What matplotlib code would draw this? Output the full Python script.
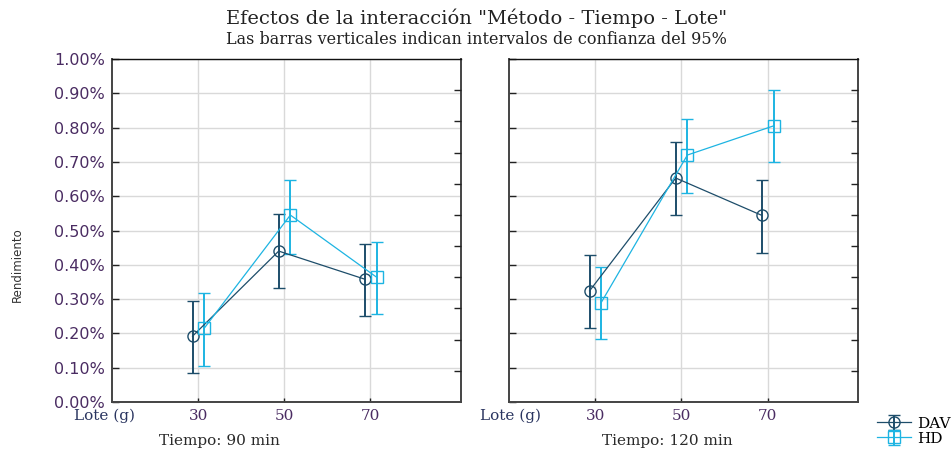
import matplotlib.pyplot as plt
import numpy as np

# Lote (g) categories
lotes = [30, 50, 70]

# Tiempo 90 min
dav_90 = [0.192, 0.440, 0.358]
dav_90_lo = [0.085, 0.332, 0.250]
dav_90_hi = [0.295, 0.548, 0.461]
hd_90 = [0.215, 0.545, 0.364]
hd_90_lo = [0.105, 0.432, 0.257]
hd_90_hi = [0.319, 0.647, 0.467]

# Tiempo 120 min
dav_120 = [0.324, 0.653, 0.544]
dav_120_lo = [0.216, 0.544, 0.434]
dav_120_hi = [0.429, 0.758, 0.648]
hd_120 = [0.290, 0.720, 0.805]
hd_120_lo = [0.183, 0.610, 0.700]
hd_120_hi = [0.394, 0.824, 0.910]

panel_titles = ['Tiempo: 90 min', 'Tiempo: 120 min']
yticks = [0.0, 0.1, 0.2, 0.3, 0.4, 0.5, 0.6, 0.7, 0.8, 0.9, 1.0]

c_dav = '#1d4d6a'
c_hd = '#1db4e2'
tick_col = '#4a2c62'
serif = 'DejaVu Serif'

fig = plt.figure(figsize=(9.53, 4.51), dpi=100)
ax1 = fig.add_axes([0.1175, 0.1086, 0.3662, 0.7606])
ax2 = fig.add_axes([0.5341, 0.1086, 0.3662, 0.7606])

panels = [
    (ax1, dav_90, dav_90_lo, dav_90_hi, hd_90, hd_90_lo, hd_90_hi),
    (ax2, dav_120, dav_120_lo, dav_120_hi, hd_120, hd_120_lo, hd_120_hi),
]

x = np.array(lotes, dtype=float)
handles = []
for i, (ax, d, dlo, dhi, h, hlo, hhi) in enumerate(panels):
    derr = [np.array(d) - np.array(dlo), np.array(dhi) - np.array(d)]
    herr = [np.array(h) - np.array(hlo), np.array(hhi) - np.array(h)]
    e1 = ax.errorbar(x - 1.3, d, yerr=derr, color=c_dav, lw=0.9, marker='o',
                     ms=8, mfc='none', mec=c_dav, mew=1.0, capsize=4,
                     elinewidth=1.4, capthick=1.2, zorder=4)
    e2 = ax.errorbar(x + 1.4, h, yerr=herr, color=c_hd, lw=0.9, marker='s',
                     ms=8, mfc='none', mec=c_hd, mew=1.0, capsize=4,
                     elinewidth=1.4, capthick=1.2, zorder=4)
    handles = [e1, e2]

    ax.set_xlim(10, 91)
    ax.set_ylim(0, 1.0)
    ax.set_xticks(lotes)
    ax.set_xticklabels([str(v) for v in lotes], family=serif, fontsize=11,
                       color=tick_col)
    ax.set_yticks(yticks)
    if i == 0:
        ax.set_yticklabels([f'{v:.2f}%' for v in yticks], fontsize=11.5,
                           color=tick_col)
    else:
        ax.set_yticklabels([])
    ax.grid(True, color='#d9d9d9', lw=1.0)
    ax.set_axisbelow(True)
    ax.tick_params(axis='both', direction='in', length=5, width=1,
                   color='#222222', pad=5)
    ax.tick_params(axis='x', length=3, pad=5)
    for s in ax.spines.values():
        s.set_color('#444444')
        s.set_linewidth(1.4)
    ax.spines['top'].set_linewidth(1.0)
    ax.spines['top'].set_color('#111111')

    # secondary inward ticks on right spine
    tw = ax.twinx()
    tw.set_ylim(0, 11)
    tw.set_yticks(range(1, 11))
    tw.set_yticklabels([])
    tw.tick_params(axis='y', direction='in', length=5, width=1, color='#222222')
    for s in tw.spines.values():
        s.set_visible(False)

fig.text(105 / 953, 1 - 416 / 451, 'Lote (g)', ha='center', va='center',
         family=serif, fontsize=11, color='#2a3560')
fig.text(511 / 953, 1 - 416 / 451, 'Lote (g)', ha='center', va='center',
         family=serif, fontsize=11, color='#2a3560')

fig.text(219 / 953, 1 - 441 / 451, panel_titles[0], ha='center', va='center',
         family=serif, fontsize=11, color='#2a2a2a')
fig.text(667 / 953, 1 - 441 / 451, panel_titles[1], ha='center', va='center',
         family=serif, fontsize=11, color='#2a2a2a')

fig.text(0.018, 1 - 265 / 451, 'Rendimiento', rotation=90, ha='center',
         va='center', family='Liberation Sans Narrow', fontsize=8.5,
         color='#333333')

fig.text(0.5, 1 - 18 / 451, 'Efectos de la interacción "Método - Tiempo - Lote"',
         ha='center', va='center', family=serif, fontsize=14, color='#222222')
fig.text(0.5, 1 - 40 / 451,
         'Las barras verticales indican intervalos de confianza del 95%',
         ha='center', va='center', family=serif, fontsize=11.5, color='#222222')

fig.legend(handles, ['DAV', 'HD'], loc='lower right',
           bbox_to_anchor=(1.01, -0.015), frameon=False,
           prop={'family': serif, 'size': 11}, handlelength=2.2,
           labelspacing=0.05, handletextpad=0.4, borderpad=0.3)

fig.savefig('out.png', dpi=100)
